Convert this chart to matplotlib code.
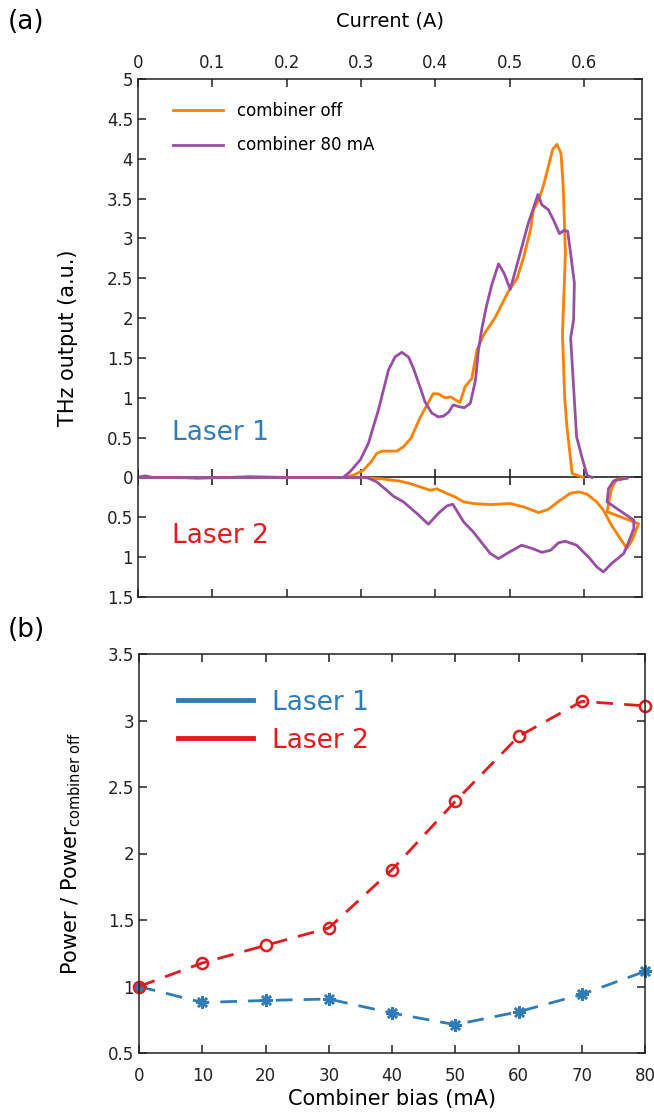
import matplotlib
matplotlib.use("Agg")
import matplotlib.pyplot as plt
from matplotlib.lines import Line2D
from matplotlib.ticker import FuncFormatter, MultipleLocator

plt.rcParams['font.family'] = ['DejaVu Sans']
plt.rcParams['mathtext.fontset'] = 'dejavusans'

# ---------------- Panel (a) data ----------------
# Laser 1 (plotted upward), combiner off
off_l1_current = [0, 0.276, 0.290, 0.303, 0.314, 0.321, 0.328, 0.348, 0.357, 0.367, 0.380, 0.397,
                  0.404, 0.413, 0.421, 0.433, 0.440, 0.449, 0.456, 0.465, 0.480, 0.498, 0.510, 0.519,
                  0.528, 0.532, 0.539, 0.545, 0.552, 0.558, 0.5635, 0.569, 0.572, 0.575, 0.571, 0.574,
                  0.577, 0.584, 0.599]
off_l1_thz = [0, 0, 0.03, 0.09, 0.20, 0.30, 0.33, 0.33, 0.385, 0.49, 0.76, 1.05,
              1.05, 1.00, 1.01, 0.94, 1.14, 1.24, 1.60, 1.79, 2.00, 2.33, 2.50, 2.77,
              3.11, 3.36, 3.48, 3.65, 3.90, 4.12, 4.18, 4.07, 3.65, 2.81, 1.81, 1.00,
              0.64, 0.05, 0]

# Laser 1, combiner 80 mA
on_l1_current = [0, 0.01, 0.02, 0.05, 0.08, 0.12, 0.15, 0.20, 0.25, 0.276, 0.285, 0.299, 0.310,
                 0.3235, 0.337, 0.346, 0.355, 0.364, 0.3705, 0.380, 0.386, 0.395, 0.404, 0.411,
                 0.418, 0.424, 0.431, 0.439, 0.447, 0.454, 0.458, 0.4626, 0.469, 0.476, 0.485,
                 0.4926, 0.5007, 0.514, 0.525, 0.532, 0.538, 0.5434, 0.552, 0.559, 0.567, 0.573,
                 0.578, 0.582, 0.587, 0.586, 0.582, 0.590, 0.597, 0.604, 0.6106]
on_l1_thz = [0.005, 0.02, 0.0, 0.0, -0.01, 0.0, 0.01, 0.0, 0.0, 0.0, 0.07, 0.22, 0.43,
             0.85, 1.35, 1.515, 1.57, 1.51, 1.37, 1.12, 0.95, 0.81, 0.76, 0.77,
             0.82, 0.91, 0.89, 0.875, 0.93, 1.22, 1.60, 1.87, 2.16, 2.42, 2.68,
             2.56, 2.36, 2.81, 3.19, 3.38, 3.55, 3.42, 3.36, 3.23, 3.06, 3.10,
             3.09, 2.81, 2.44, 1.98, 1.75, 0.51, 0.26, 0.03, 0]

# Laser 2 (plotted downward), combiner off
off_l2_current = [0, 0.301, 0.330, 0.353, 0.366, 0.382, 0.393, 0.402, 0.4155, 0.4266, 0.438,
                  0.451, 0.474, 0.5007, 0.5186, 0.5388, 0.552, 0.568, 0.5814, 0.5926, 0.604,
                  0.617, 0.626, 0.637, 0.6487, 0.6577, 0.6645, 0.6734, 0.631, 0.633, 0.637,
                  0.6437, 0.655]
off_l2_thz = [0, 0, 0.02, 0.047, 0.076, 0.126, 0.16, 0.143, 0.20, 0.244, 0.306,
              0.327, 0.34, 0.327, 0.369, 0.44, 0.40, 0.285, 0.20, 0.18, 0.21,
              0.306, 0.41, 0.60, 0.766, 0.89, 0.79, 0.58, 0.43, 0.33, 0.14,
              0.025, 0.01]

# Laser 2, combiner 80 mA
on_l2_current = [0, 0.308, 0.321, 0.332, 0.3436, 0.357, 0.375, 0.3907, 0.404, 0.4155, 0.4235,
                 0.438, 0.451, 0.465, 0.474, 0.485, 0.496, 0.516, 0.530, 0.5434, 0.555, 0.5657,
                 0.5747, 0.590, 0.608, 0.617, 0.626, 0.637, 0.6534, 0.660, 0.667, 0.667, 0.631,
                 0.633, 0.640, 0.658]
on_l2_thz = [0, 0, 0.055, 0.14, 0.235, 0.306, 0.45, 0.587, 0.45, 0.357, 0.336,
             0.557, 0.683, 0.85, 0.955, 1.018, 0.955, 0.85, 0.89, 0.94, 0.913, 0.82,
             0.80, 0.85, 1.018, 1.12, 1.186, 1.08, 0.955, 0.81, 0.64, 0.536, 0.306,
             0.14, 0.04, 0.01]

current_ticks = [0, 0.1, 0.2, 0.3, 0.4, 0.5, 0.6]

# ---------------- Panel (b) data ----------------
combiner_bias = [0, 10, 20, 30, 40, 50, 60, 70, 80]
laser1_ratio = [1.00, 0.88, 0.895, 0.906, 0.80, 0.713, 0.81, 0.94, 1.114]
laser2_ratio = [1.00, 1.177, 1.309, 1.44, 1.878, 2.392, 2.88, 3.144, 3.11]

ORANGE = '#ff7f00'
PURPLE = '#984ea3'
BLUE = '#2f7cb8'
RED = '#e41a1c'

W, H = 654, 1115
fig = plt.figure(figsize=(W / 100, H / 100), dpi=100)

# ---------------- Panel (a) ----------------
axa = fig.add_axes([138 / W, 1 - 597 / H, (642 - 138) / W, (597 - 79) / H])
axa.plot(off_l1_current, off_l1_thz, color=ORANGE, lw=2, label='combiner off')
axa.plot(on_l1_current, on_l1_thz, color=PURPLE, lw=2, label='combiner 80 mA')
axa.plot(off_l2_current, [-v for v in off_l2_thz], color=ORANGE, lw=2)
axa.plot(on_l2_current, [-v for v in on_l2_thz], color=PURPLE, lw=2)
axa.axhline(0, color='#222222', lw=1.2, zorder=1)
axa.plot(current_ticks, [0] * len(current_ticks), ls='none', marker='|', ms=11,
         mew=1.2, color='#222222', zorder=1)

axa.set_xlim(0, 0.678)
axa.set_ylim(-1.5, 5)
axa.set_xticks(current_ticks)
axa.xaxis.set_major_formatter(FuncFormatter(lambda v, p: f"{v:g}"))
axa.yaxis.set_major_locator(MultipleLocator(0.5))
axa.yaxis.set_major_formatter(FuncFormatter(lambda v, p: f"{abs(v):g}"))
axa.tick_params(axis='both', direction='in', length=6, width=1.1, labelsize=12,
                top=True, right=True, bottom=True, left=True,
                labeltop=True, labelbottom=False, colors='#222222')
axa.tick_params(axis='x', pad=5)
axa.xaxis.set_label_position('top')
axa.set_xlabel('Current (A)', fontsize=14, labelpad=20)
axa.set_ylabel('THz output (a.u.)', fontsize=15, labelpad=21)
for s in axa.spines.values():
    s.set_linewidth(1.1)
    s.set_color('#222222')

lega = axa.legend(loc='upper left', bbox_to_anchor=(0.04, 0.985), frameon=False,
                  fontsize=12, handlelength=3.0, handletextpad=0.85, labelspacing=1.0)
for ln in lega.get_lines():
    ln.set_linewidth(2)

axa.text(172 / W, 1 - 433 / H, 'Laser 1', transform=fig.transFigure, color=BLUE,
         fontsize=19, va='center', ha='left')
axa.text(172 / W, 1 - 536 / H, 'Laser 2', transform=fig.transFigure, color=RED,
         fontsize=19, va='center', ha='left')
fig.text(8 / W, 1 - 22 / H, '(a)', fontsize=19, va='center', ha='left')

# ---------------- Panel (b) ----------------
axb = fig.add_axes([139 / W, 1 - 1053 / H, (645 - 139) / W, (1053 - 654) / H])
axb.plot(combiner_bias, laser1_ratio, color=BLUE, lw=2, ls=(0, (6, 4)),
         marker=(8, 2, 0), ms=9, mew=1.8, clip_on=False)
axb.plot(combiner_bias, laser2_ratio, color=RED, lw=2, ls=(0, (6, 4)),
         marker='o', ms=8, mfc='none', mew=1.8, clip_on=False)
axb.set_xlim(0, 80)
axb.set_ylim(0.5, 3.5)
axb.set_xticks(combiner_bias)
axb.yaxis.set_major_locator(MultipleLocator(0.5))
axb.yaxis.set_major_formatter(FuncFormatter(lambda v, p: f"{v:g}"))
axb.tick_params(axis='both', direction='in', length=6, width=1.1, labelsize=12,
                top=True, right=True, colors='#222222')
axb.tick_params(axis='x', pad=10)
axb.set_xlabel('Combiner bias (mA)', fontsize=15, labelpad=3)
axb.set_ylabel(r'Power / Power$_{\mathrm{combiner\ off}}$', fontsize=15, labelpad=18)
for s in axb.spines.values():
    s.set_linewidth(1.1)
    s.set_color('#222222')

handles = [Line2D([], [], color=BLUE, lw=3.5), Line2D([], [], color=RED, lw=3.5)]
legb = axb.legend(handles, ['Laser 1', 'Laser 2'], loc='upper left',
                  bbox_to_anchor=(0.03, 0.97), frameon=False, fontsize=19,
                  handlelength=2.85, handletextpad=0.72, labelspacing=0.45)
for t, c in zip(legb.get_texts(), [BLUE, RED]):
    t.set_color(c)
fig.text(8 / W, 1 - 630 / H, '(b)', fontsize=19, va='center', ha='left')

fig.savefig('out.png', dpi=100)
